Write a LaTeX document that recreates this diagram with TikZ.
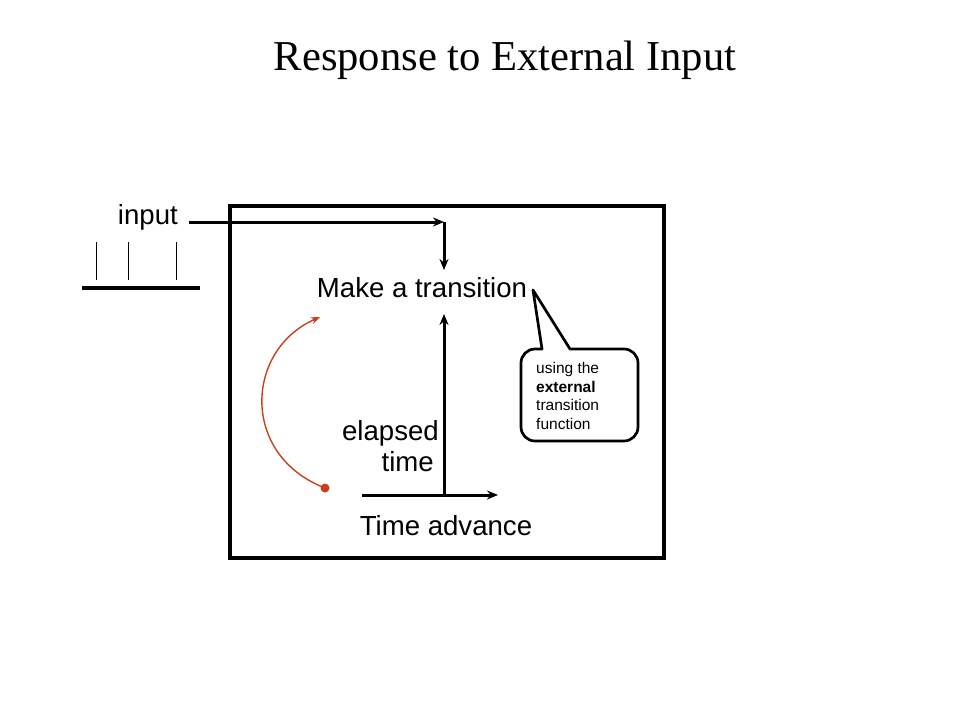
\documentclass[tikz,border=0pt]{standalone}
\usepackage{fontspec}
\setmainfont{Liberation Sans}
\newfontfamily\titlefont{Liberation Serif}
\usetikzlibrary{arrows.meta}
\definecolor{arcred}{RGB}{200,64,26}
\begin{document}
\begin{tikzpicture}[x=1pt,y=-1pt,
  lbl/.style={inner sep=0pt,anchor=base,font=\fontsize{27.6}{30}\selectfont},
  thick line/.style={line width=3.3pt},
  conn/.style={line width=3pt,-{Stealth[length=11pt,width=9pt]}},
  small/.style={inner sep=0pt,anchor=base west,font=\fontsize{15.5}{18}\selectfont}]
\useasboundingbox (0,0) rectangle (960,720);
% title
\node[inner sep=0pt,anchor=base,font=\titlefont\fontsize{42.6}{46}\selectfont] (title) at (505,70) {Response to External Input};
% box
\draw[thick line] (230,206) rectangle (664,558);
% queue
\draw[line width=4pt] (82,288) -- (200,288);
\foreach \x in {96,128,176} \draw[line width=1pt] (\x,242) -- (\x,280);
% texts
\node[lbl,anchor=base east] (input) at (178,224) {input};
\node[lbl] (make) at (422,297) {Make a transition};
\node[lbl,anchor=base east] (elapsed) at (439,440) {elapsed};
\node[lbl,anchor=base east] (time) at (434,471) {time};
\node[lbl] (adv) at (446,535) {Time advance};
% input arrow
\coordinate (inStart) at (189,222);
\coordinate (corner) at (444,222);
\coordinate (inEnd) at (444,270);
\draw[conn] (inStart) -- (corner);
\draw[conn] (corner) -- (inEnd);
% axes
\coordinate (origin) at (444,495);
\coordinate (yEnd) at (444,314);
\coordinate (xStart) at (362,495);
\coordinate (xEnd) at (498,495);
\draw[conn] (origin) -- (yEnd);
\draw[conn] (xStart) -- (xEnd);
% red arc
\coordinate (dot) at (325,488);
\coordinate (arcEnd) at (320,317);
\fill[arcred] (dot) circle (4.5pt);
\draw[arcred,line width=1.4pt,-{Stealth[length=9pt,width=7pt]}] (dot) .. controls (240,455) and (245,350) .. (arcEnd);
% callout
\coordinate (tip) at (533,290);
\draw[line width=2.7pt,line join=round] (542,349) -- (tip) -- (570,349)
  {[rounded corners=14pt] -- (638,349) -- (638,441) -- (521,441) -- (521,349)} -- cycle;
\node[small] (l1) at (536,373) {using the};
\node[small] (l2) at (536,392) {\bfseries external};
\node[small] (l3) at (536,410) {transition};
\node[small] (l4) at (536,429) {function};
\end{tikzpicture}
\end{document}
